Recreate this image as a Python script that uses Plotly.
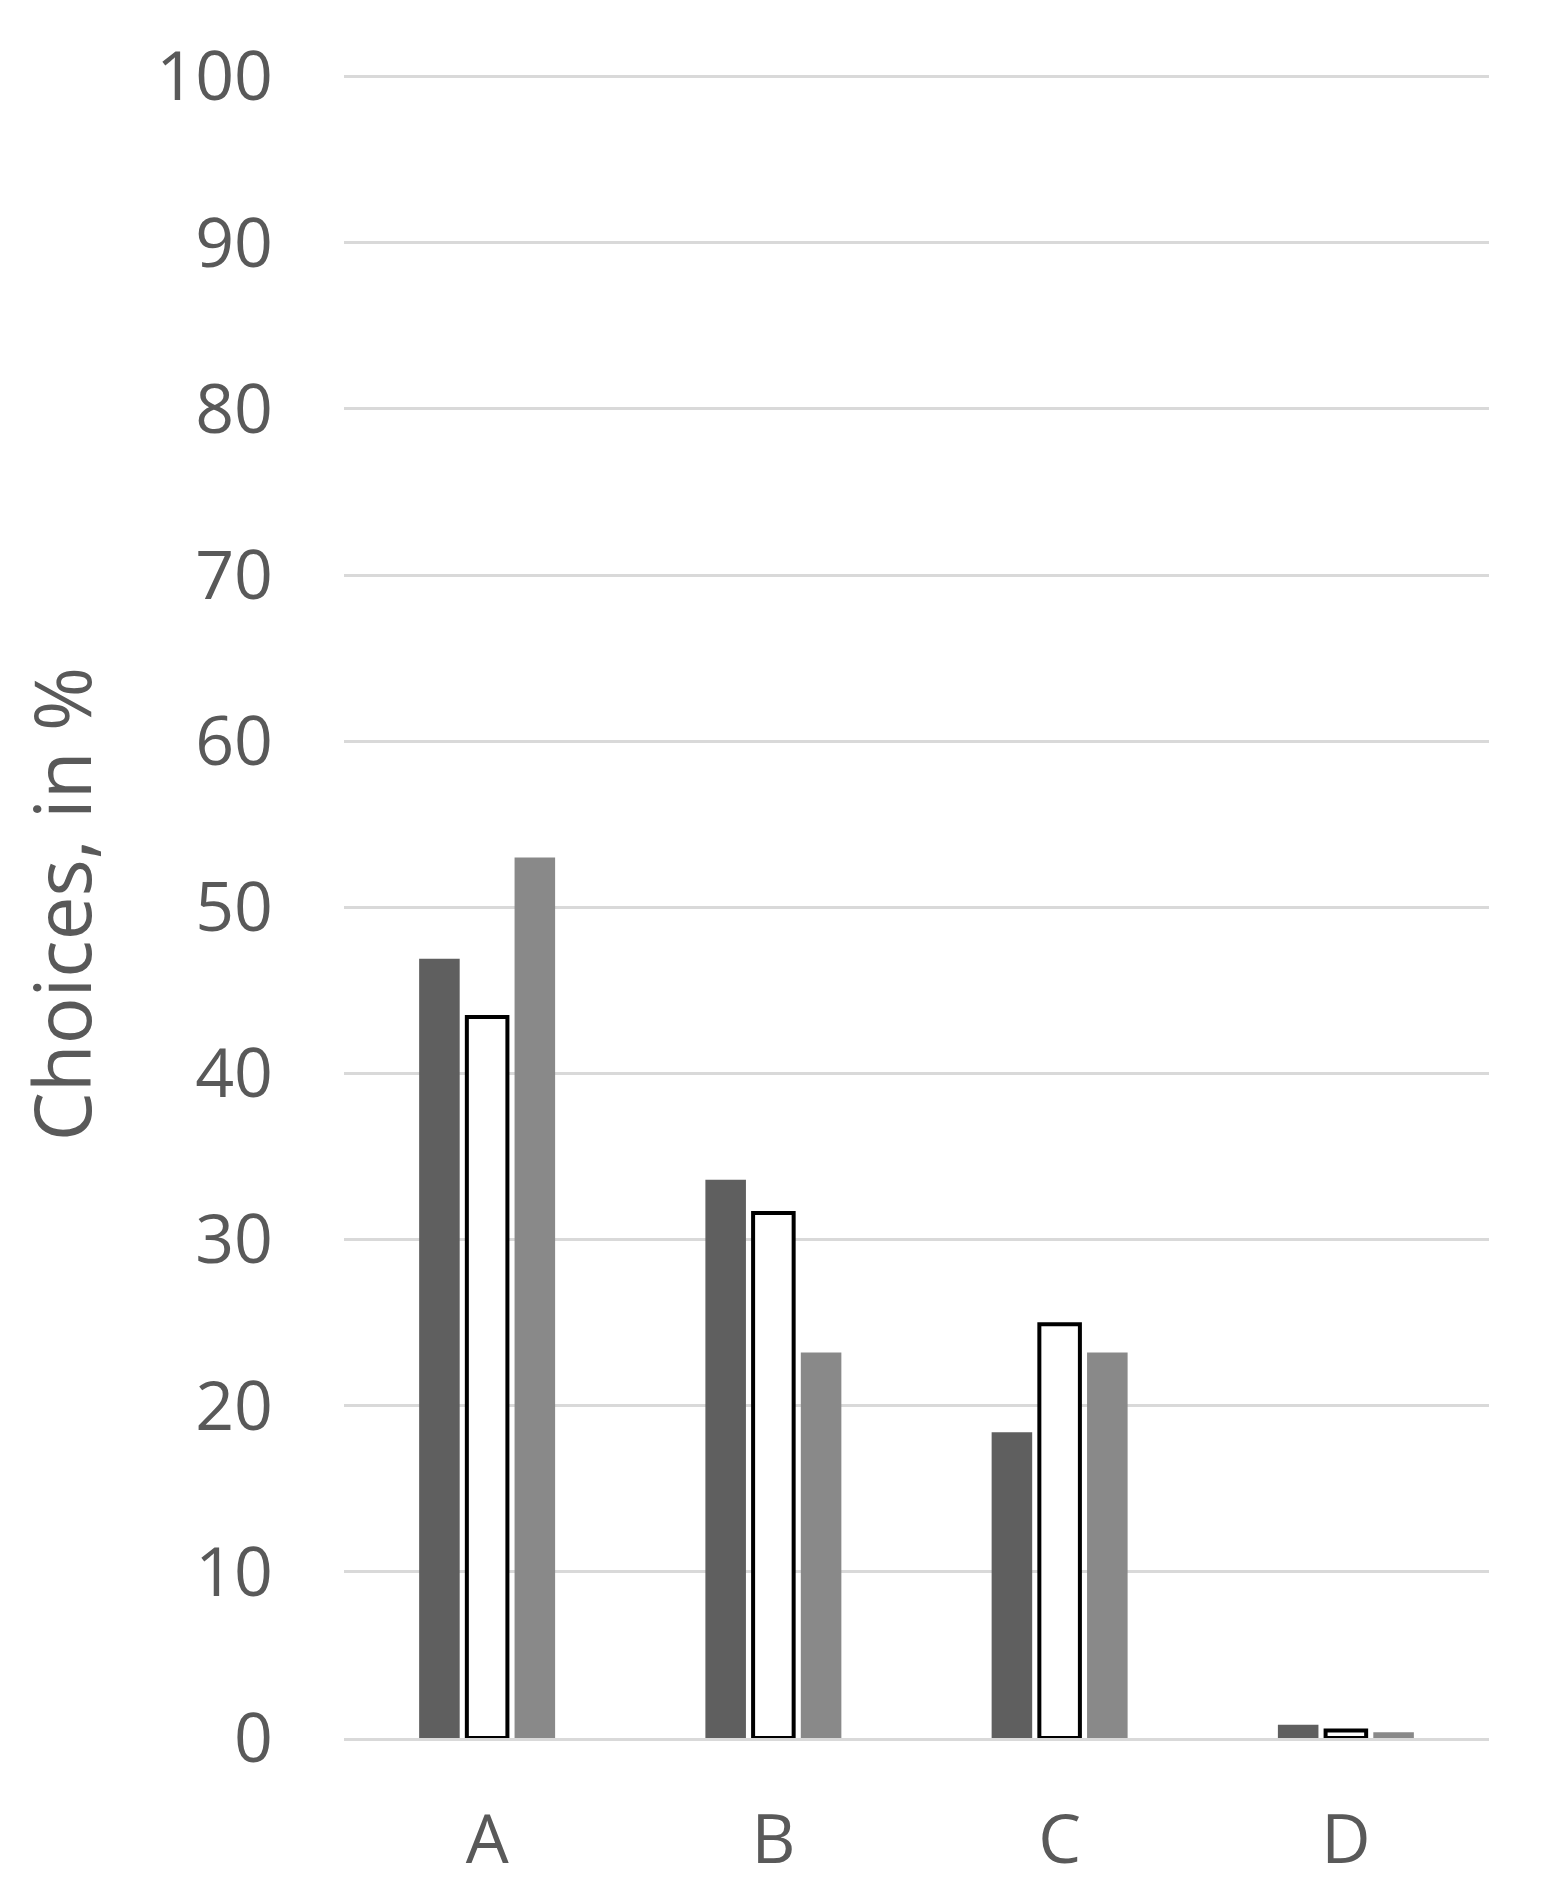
import plotly.graph_objects as go

categories = ["A", "B", "C", "D"]
series1 = [46.9, 33.6, 18.4, 0.8]
series2 = [43.4, 31.6, 24.9, 0.45]
series3 = [53.0, 23.2, 23.2, 0.35]
yticks = list(range(0, 101, 10))

fig = go.Figure()
fig.add_bar(x=categories, y=series1, marker=dict(color="#5f5f5f", line=dict(width=0)))
fig.add_bar(x=categories, y=series2, marker=dict(color="white", line=dict(color="black", width=4)))
fig.add_bar(x=categories, y=series3, marker=dict(color="#898989", line=dict(width=0)))

fig.update_layout(
    width=1558, height=1904, showlegend=False,
    paper_bgcolor="white", plot_bgcolor="white",
    margin=dict(l=336, r=77, t=62, b=174),
    bargap=0.5, bargroupgap=0.15,
    font=dict(family="Open Sans", color="#595959", size=68),
)
fig.update_yaxes(range=[0, 100.4], tickvals=yticks, gridcolor="#d9d9d9", gridwidth=3,
                 zeroline=False, showline=False, ticks="", ticklen=0,
                 ticklabelstandoff=70, tickfont=dict(size=68),
                 title=dict(text="Choices, in %", font=dict(size=78), standoff=40))
fig.update_xaxes(showline=True, linecolor="#d9d9d9", linewidth=3, ticks="",
                 ticklabelstandoff=40, tickfont=dict(size=68))
fig.write_html("out.html")
